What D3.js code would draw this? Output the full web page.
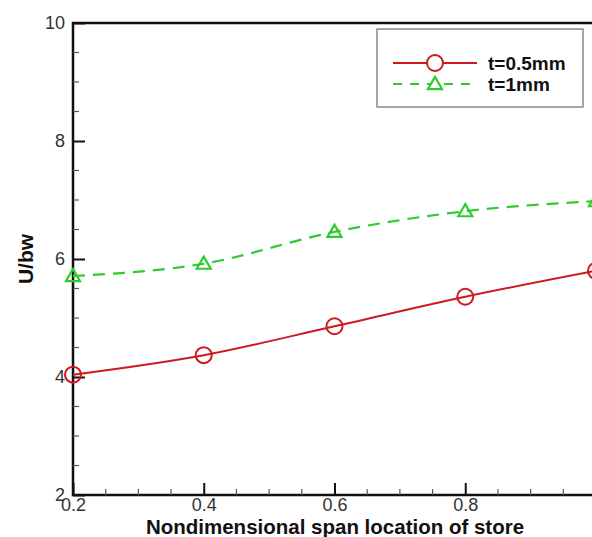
<!DOCTYPE html>
<html><head><meta charset="utf-8">
<script src="https://cdn.jsdelivr.net/npm/d3@7"></script>
<style>body{margin:0;background:#fff}svg{display:block}</style>
</head><body>
<svg id="c" width="592" height="537"></svg>
<script>
const xValues = [0.2, 0.4, 0.6, 0.8, 1.0];
const thinValues = [4.04, 4.37, 4.86, 5.36, 5.80];   // t=0.5mm
const thickValues = [5.71, 5.92, 6.46, 6.81, 6.98];  // t=1mm
const seriesNames = ["t=0.5mm", "t=1mm"];
const xTicks = [0.2, 0.4, 0.6, 0.8];
const yTicks = [2, 4, 6, 8, 10];
const xTitle = "Nondimensional span location of store";
const yTitle = "U/bw";

const svg = d3.select("#c");
const L = 73, R = 596, T = 23, B = 495;
const x = d3.scaleLinear().domain([0.2, 1.0]).range([L, R]);
const y = d3.scaleLinear().domain([2, 10]).range([B, T]);
const font = "Liberation Sans, Arial, Helvetica, sans-serif";
const red = "#cc1a1f", green = "#2ecb2e";

// plot frame
svg.append("rect").attr("x", L).attr("y", T).attr("width", R - L).attr("height", B - T)
  .attr("fill", "none").attr("stroke", "#111").attr("stroke-width", 2.5);

// x axis ticks (inward)
const xAxis = d3.axisBottom(x).tickValues(xTicks).tickSize(-12).tickFormat(d3.format(".1f")).tickSizeOuter(0);
const gx = svg.append("g").attr("transform", `translate(0,${B})`).call(xAxis);
gx.select(".domain").remove();
gx.selectAll(".tick line").attr("stroke", "#111").attr("stroke-width", 2);
gx.selectAll(".tick text").attr("font-family", font).attr("font-size", 18).attr("fill", "#333")
  .attr("y", 16).attr("dy", null);
const xMinor = d3.range(0.25, 1.0, 0.05).filter(v => Math.abs(v * 5 - Math.round(v * 5)) > 1e-6);
svg.append("g").selectAll("line").data(xMinor).join("line")
  .attr("x1", d => x(d)).attr("x2", d => x(d)).attr("y1", B).attr("y2", B - 6)
  .attr("stroke", "#555").attr("stroke-width", 1.2);

// y axis
const yAxis = d3.axisLeft(y).tickValues(yTicks).tickSize(-12).tickFormat(d3.format("d")).tickSizeOuter(0);
const gy = svg.append("g").attr("transform", `translate(${L},0)`).call(yAxis);
gy.select(".domain").remove();
gy.selectAll(".tick line").attr("stroke", "#111").attr("stroke-width", 2);
gy.selectAll(".tick text").attr("font-family", font).attr("font-size", 18).attr("fill", "#333").attr("x", -8);
const yMinor = d3.range(2.5, 10, 0.5).filter(v => Math.abs(v / 2 - Math.round(v / 2)) > 1e-6);
svg.append("g").selectAll("line").data(yMinor).join("line")
  .attr("x1", L).attr("x2", L + 6).attr("y1", d => y(d)).attr("y2", d => y(d))
  .attr("stroke", "#555").attr("stroke-width", 1.2);

// titles
svg.append("text").attr("x", 335).attr("y", 534).attr("text-anchor", "middle")
  .attr("font-family", font).attr("font-weight", "bold").attr("font-size", 20.5).attr("fill", "#111").text(xTitle);
svg.append("text").attr("transform", `translate(33,${(T + B) / 2}) rotate(-90)`).attr("text-anchor", "middle")
  .attr("font-family", font).attr("font-weight", "bold").attr("font-size", 21).attr("fill", "#111").text(yTitle);

// lines
const line = d3.line().x(d => x(d[0])).y(d => y(d[1])).curve(d3.curveMonotoneX);
const thin = xValues.map((v, i) => [v, thinValues[i]]);
const thick = xValues.map((v, i) => [v, thickValues[i]]);

svg.append("path").attr("d", line(thin)).attr("fill", "none").attr("stroke", red).attr("stroke-width", 2);
svg.append("path").attr("d", line(thick)).attr("fill", "none").attr("stroke", green).attr("stroke-width", 2.2).attr("stroke-dasharray", "12,8");

const tri = d3.symbol().type(d3.symbolTriangle).size(85);
svg.append("g").selectAll("circle").data(thin).join("circle")
  .attr("cx", d => x(d[0])).attr("cy", d => y(d[1])).attr("r", 8)
  .attr("fill", "none").attr("stroke", red).attr("stroke-width", 2);
svg.append("g").selectAll("path").data(thick).join("path")
  .attr("transform", d => `translate(${x(d[0])},${y(d[1]) + 1})`).attr("d", tri)
  .attr("fill", "none").attr("stroke", green).attr("stroke-width", 2.2);

// legend
const lg = svg.append("g");
lg.append("rect").attr("x", 377).attr("y", 29).attr("width", 206).attr("height", 78)
  .attr("fill", "#fff").attr("stroke", "#888").attr("stroke-width", 1.5);
const legY = [63, 84];
const colors = [red, green];
seriesNames.forEach((name, i) => {
  lg.append("line").attr("x1", 393).attr("x2", 477).attr("y1", legY[i]).attr("y2", legY[i])
    .attr("stroke", colors[i]).attr("stroke-width", 2).attr("stroke-dasharray", i ? "9,8" : null);
  if (i === 0) lg.append("circle").attr("cx", 435).attr("cy", legY[i]).attr("r", 8).attr("fill", "#fff").attr("stroke", red).attr("stroke-width", 2);
  else lg.append("path").attr("transform", `translate(435,${legY[i] + 1})`).attr("d", tri).attr("fill", "#fff").attr("stroke", green).attr("stroke-width", 2.2);
  lg.append("text").attr("x", 488).attr("y", legY[i]).attr("dy", "0.35em")
    .attr("font-family", font).attr("font-weight", "bold").attr("font-size", 19).attr("fill", "#111").text(name);
});
</script>
</body></html>
